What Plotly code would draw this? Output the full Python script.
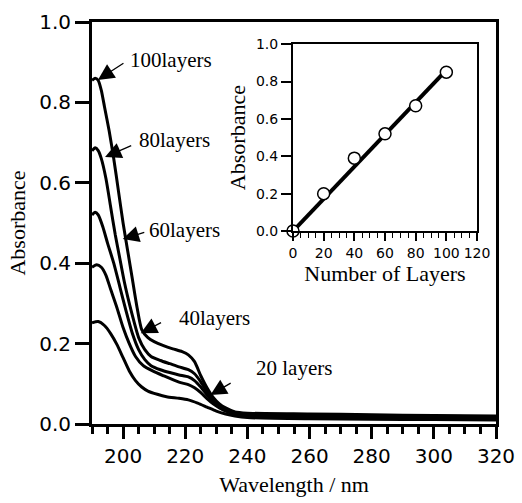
import numpy as np
import plotly.graph_objects as go

# ---- main spectra (wavelength nm, absorbance) ----
wl_100 = [190, 191, 192, 193, 194, 195.5, 197, 198.5, 200, 201.5, 203, 204.5, 206, 208, 210, 213, 216, 219, 221, 223, 225, 227, 229, 231, 233, 236, 240, 260, 280, 300, 320]
ab_100 = [0.855, 0.86, 0.855, 0.83, 0.79, 0.73, 0.66, 0.58, 0.50, 0.43, 0.36, 0.29, 0.235, 0.215, 0.205, 0.195, 0.187, 0.18, 0.172, 0.155, 0.12, 0.09, 0.066, 0.05, 0.04, 0.03, 0.027, 0.025, 0.023, 0.021, 0.02]

wl_80 = [190, 191, 192, 193, 194.5, 196, 197.5, 199, 200.5, 202, 203.5, 205, 207, 209, 212, 215, 218, 221, 223, 225, 227, 229, 231, 233, 236, 240, 260, 280, 300, 320]
ab_80 = [0.68, 0.687, 0.68, 0.66, 0.61, 0.54, 0.47, 0.41, 0.35, 0.30, 0.255, 0.215, 0.185, 0.168, 0.158, 0.15, 0.142, 0.135, 0.125, 0.105, 0.08, 0.06, 0.046, 0.037, 0.029, 0.025, 0.023, 0.021, 0.019, 0.018]

wl_60 = [190, 191, 192, 193.5, 195, 197, 199, 201, 203, 205, 207, 209, 212, 215, 218, 221, 223, 225, 227, 229, 231, 233, 236, 240, 260, 280, 300, 320]
ab_60 = [0.52, 0.527, 0.52, 0.49, 0.45, 0.40, 0.34, 0.28, 0.225, 0.185, 0.16, 0.145, 0.135, 0.128, 0.122, 0.117, 0.108, 0.092, 0.073, 0.056, 0.043, 0.035, 0.027, 0.023, 0.021, 0.019, 0.017, 0.016]

wl_40 = [190, 191.5, 193, 194.5, 196, 198, 200, 202, 204, 206.5, 209.5, 213, 218, 221, 223, 225, 227, 229, 231, 233, 236, 240, 260, 280, 300, 320]
ab_40 = [0.39, 0.396, 0.39, 0.37, 0.335, 0.29, 0.24, 0.20, 0.168, 0.145, 0.132, 0.12, 0.104, 0.098, 0.09, 0.078, 0.063, 0.05, 0.04, 0.032, 0.025, 0.02, 0.018, 0.016, 0.014, 0.013]

wl_20 = [190, 192, 194, 196, 198, 200, 202, 204, 206, 208, 211, 214, 218, 221, 224, 227, 230, 233, 236, 240, 260, 280, 300, 320]
ab_20 = [0.252, 0.255, 0.245, 0.225, 0.198, 0.165, 0.132, 0.108, 0.092, 0.082, 0.074, 0.068, 0.064, 0.06, 0.052, 0.042, 0.032, 0.025, 0.02, 0.016, 0.013, 0.012, 0.011, 0.01]

# ---- inset data ----
layers = [0, 20, 40, 60, 80, 100]
peak_abs = [0.0, 0.20, 0.39, 0.52, 0.67, 0.85]

# ---- labels ----
label_text = ["100layers", "80layers", "60layers", "40layers", "20 layers"]
label_pos = [(201.5, 0.905), (204.4, 0.706), (207.6, 0.483), (217.5, 0.264), (242.2, 0.139)]
arrow_tip = [(191.9, 0.856), (194.2, 0.664), (199.9, 0.46), (205.7, 0.226), (228.1, 0.072)]
arrow_tail = [(200.6, 0.90), (203.1, 0.694), (207.3, 0.478), (212.7, 0.254), (235.1, 0.104)]

x_ticks = [200, 220, 240, 260, 280, 300, 320]
y_ticks = [0.0, 0.2, 0.4, 0.6, 0.8, 1.0]
inset_x_ticks = [0, 20, 40, 60, 80, 100, 120]

SERIF = "Liberation Serif"
SANS = "DejaVu Sans"

fig = go.Figure()
for wl, ab in [(wl_100, ab_100), (wl_80, ab_80), (wl_60, ab_60), (wl_40, ab_40), (wl_20, ab_20)]:
    fig.add_trace(go.Scatter(x=wl, y=ab, mode="lines", line=dict(color="black", width=3, shape="spline", smoothing=0.6),
                             showlegend=False, hoverinfo="skip"))

# inset: linear fit through origin
lx = np.array(layers, dtype=float)
ly = np.array(peak_abs, dtype=float)
slope = float(np.sum(lx * ly) / np.sum(lx * lx))
fit_x = [lx.min(), lx.max()]
fig.add_trace(go.Scatter(x=fit_x, y=[slope * v for v in fit_x], mode="lines", line=dict(color="black", width=4),
                         xaxis="x2", yaxis="y2", showlegend=False, hoverinfo="skip"))
fig.add_trace(go.Scatter(x=layers, y=peak_abs, mode="markers",
                         marker=dict(size=12, color="white", line=dict(color="black", width=1.5)),
                         xaxis="x2", yaxis="y2", showlegend=False, cliponaxis=False))

ann = []
for t, (px, py), (tx, ty), (sx, sy) in zip(label_text, label_pos, arrow_tip, arrow_tail):
    ann.append(dict(x=tx, y=ty, ax=sx, ay=sy, axref="x", ayref="y", xref="x", yref="y", text="",
                    showarrow=True, arrowhead=2, arrowsize=2.5, arrowwidth=1.3, arrowcolor="black"))
    ann.append(dict(x=px, y=py, xref="x", yref="y", text=t, showarrow=False, xanchor="left", yanchor="middle",
                    font=dict(family=SERIF, size=21, color="black")))

fig.update_layout(
    width=522, height=503,
    margin=dict(l=92, r=26, t=22, b=79),
    paper_bgcolor="white", plot_bgcolor="white",
    annotations=ann,
    xaxis=dict(range=[190, 320], tickvals=x_ticks, ticks="outside", ticklen=12, tickwidth=3, tickcolor="black",
               minor=dict(tick0=190, dtick=5, ticks="outside", ticklen=7, tickwidth=2.5, tickcolor="black"),
               showline=True, linewidth=3, linecolor="black", mirror=True, showgrid=False, zeroline=False,
               automargin=False, tickangle=0,
               tickfont=dict(family=SANS, size=20, color="black"),
               title=dict(text="Wavelength / nm", font=dict(family=SERIF, size=22, color="black"), standoff=10)),
    yaxis=dict(range=[0, 1], tickvals=y_ticks, tickformat=".1f", ticks="outside", ticklen=14, tickwidth=3,
               tickcolor="black", showline=True, linewidth=3, linecolor="black", mirror=True, showgrid=False,
               zeroline=False, automargin=False, tickfont=dict(family=SANS, size=20, color="black"),
               title=dict(text="Absorbance", font=dict(family=SERIF, size=22, color="black"), standoff=8)),
    xaxis2=dict(domain=[0.4975, 0.953], anchor="y2", range=[0, 120], tickvals=inset_x_ticks, ticks="outside",
                ticklen=8, tickwidth=1.5, tickcolor="black", tickangle=0, automargin=False,
                minor=dict(tick0=0, dtick=5, ticks="outside", ticklen=5, tickwidth=1.2, tickcolor="black"),
                showline=True, linewidth=2, linecolor="black", mirror=True, showgrid=False, zeroline=False,
                tickfont=dict(family=SANS, size=14, color="black"),
                title=dict(text="Number of Layers", font=dict(family=SERIF, size=22, color="black"), standoff=4)),
    yaxis2=dict(domain=[0.48, 0.945], anchor="x2", range=[0, 1], tickvals=y_ticks, tickformat=".1f",
                ticks="outside", ticklen=10, tickwidth=1.5, tickcolor="black", showline=True, linewidth=2,
                linecolor="black", mirror=True, showgrid=False, zeroline=False, automargin=False,
                tickfont=dict(family=SANS, size=14, color="black"),
                title=dict(text="Absorbance", font=dict(family=SERIF, size=22, color="black"), standoff=4)),
)

fig.write_html("out.html", config={"displayModeBar": False}, post_script="document.body.style.margin='0';")
